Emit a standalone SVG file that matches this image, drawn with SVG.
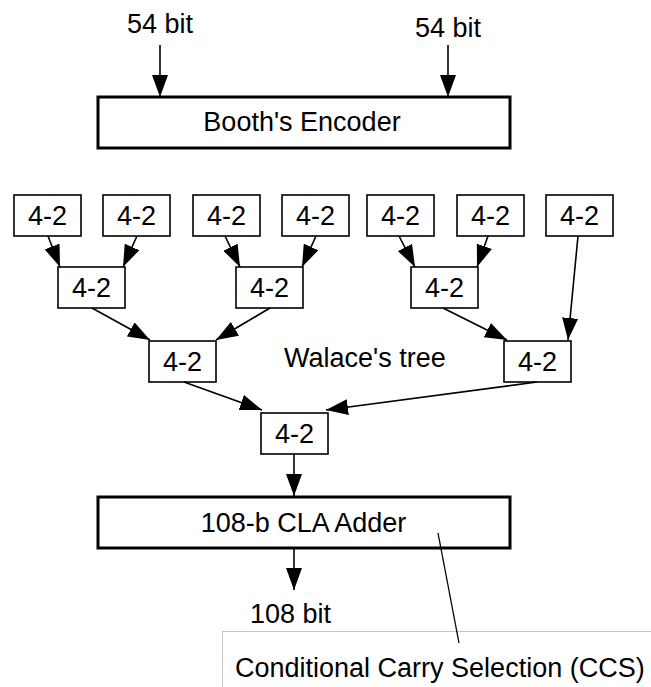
<svg xmlns="http://www.w3.org/2000/svg" width="651" height="687" viewBox="0 0 651 687">
<defs>
<marker id="ah" markerUnits="userSpaceOnUse" markerWidth="22" markerHeight="16" refX="22" refY="8" orient="auto" viewBox="0 0 22 16">
<path d="M0,0 L22,8 L0,16 z" fill="#000"/>
</marker>
<style>
text{font-family:"Liberation Sans",Arial,sans-serif;font-size:27px;fill:#000}
.c{text-anchor:middle}
.b{fill:#fff;stroke:#000;stroke-width:1.6}
.big{fill:#fff;stroke:#000;stroke-width:3}
.e{fill:none;stroke:#000;stroke-width:1.6;marker-end:url(#ah)}
</style>
</defs>
<rect width="651" height="687" fill="#fff"/>
<g id="labels-in">
<text class="c" x="160" y="33">54 bit</text>
<text class="c" x="448" y="37">54 bit</text>
</g>
<g id="booth">
<rect class="big" x="98" y="97" width="412" height="51"/>
<text class="c" x="302" y="131">Booth's Encoder</text>
</g>
<g id="t1"><rect class="b" x="14" y="195" width="67" height="41"/><text class="c" x="47.5" y="225">4-2</text></g>
<g id="t2"><rect class="b" x="103" y="195" width="67" height="41"/><text class="c" x="136.5" y="225">4-2</text></g>
<g id="t3"><rect class="b" x="193" y="195" width="67" height="41"/><text class="c" x="226.5" y="225">4-2</text></g>
<g id="t4"><rect class="b" x="282" y="195" width="67" height="41"/><text class="c" x="315.5" y="225">4-2</text></g>
<g id="t5"><rect class="b" x="367" y="195" width="67" height="41"/><text class="c" x="400.5" y="225">4-2</text></g>
<g id="t6"><rect class="b" x="457" y="195" width="67" height="41"/><text class="c" x="490.5" y="225">4-2</text></g>
<g id="t7"><rect class="b" x="546" y="195" width="67" height="41"/><text class="c" x="579.5" y="225">4-2</text></g>
<g id="m1"><rect class="b" x="58" y="267" width="67" height="41"/><text class="c" x="91.5" y="297">4-2</text></g>
<g id="m2"><rect class="b" x="236" y="267" width="67" height="41"/><text class="c" x="269.5" y="297">4-2</text></g>
<g id="m3"><rect class="b" x="411" y="267" width="67" height="41"/><text class="c" x="444.5" y="297">4-2</text></g>
<g id="n1"><rect class="b" x="149" y="341" width="67" height="41"/><text class="c" x="182.5" y="371">4-2</text></g>
<g id="n2"><rect class="b" x="504" y="341" width="67" height="41"/><text class="c" x="537.5" y="371">4-2</text></g>
<g id="f"><rect class="b" x="261" y="413" width="67" height="41"/><text class="c" x="294.5" y="443">4-2</text></g>
<g id="tree-label"><text x="284" y="367">Walace's tree</text></g>
<g id="cla">
<rect class="big" x="98" y="497" width="412" height="51"/>
<text class="c" x="303.5" y="532">108-b CLA Adder</text>
</g>
<g id="out-label"><text x="250" y="623">108 bit</text></g>
<g id="ccs">
<rect x="222.5" y="631.5" width="500" height="100" fill="#fff" stroke="#888" stroke-width="1" stroke-dasharray="1 1"/>
<text x="235" y="677">Conditional Carry Selection (CCS)</text>
</g>
<g id="connectors">
<line class="e" x1="160" y1="45" x2="160" y2="97"/>
<line class="e" x1="448" y1="45" x2="448" y2="97"/>
<line class="e" x1="48" y1="236" x2="60" y2="267"/>
<line class="e" x1="137" y1="236" x2="123" y2="267"/>
<line class="e" x1="225" y1="236" x2="240" y2="267"/>
<line class="e" x1="316" y1="236" x2="302" y2="267"/>
<line class="e" x1="399" y1="236" x2="415" y2="267"/>
<line class="e" x1="488" y1="236" x2="477" y2="267"/>
<line class="e" x1="578" y1="236" x2="568" y2="340"/>
<line class="e" x1="92" y1="308" x2="150" y2="340"/>
<line class="e" x1="270" y1="308" x2="216" y2="340"/>
<line class="e" x1="443" y1="308" x2="507" y2="340"/>
<line class="e" x1="184" y1="382" x2="262" y2="410"/>
<line class="e" x1="537" y1="382" x2="326" y2="410"/>
<line class="e" x1="294" y1="454" x2="294" y2="496"/>
<line class="e" x1="294" y1="548" x2="294" y2="590"/>
<line x1="438" y1="533" x2="459" y2="643" stroke="#000" stroke-width="1.3"/>
</g>
</svg>
